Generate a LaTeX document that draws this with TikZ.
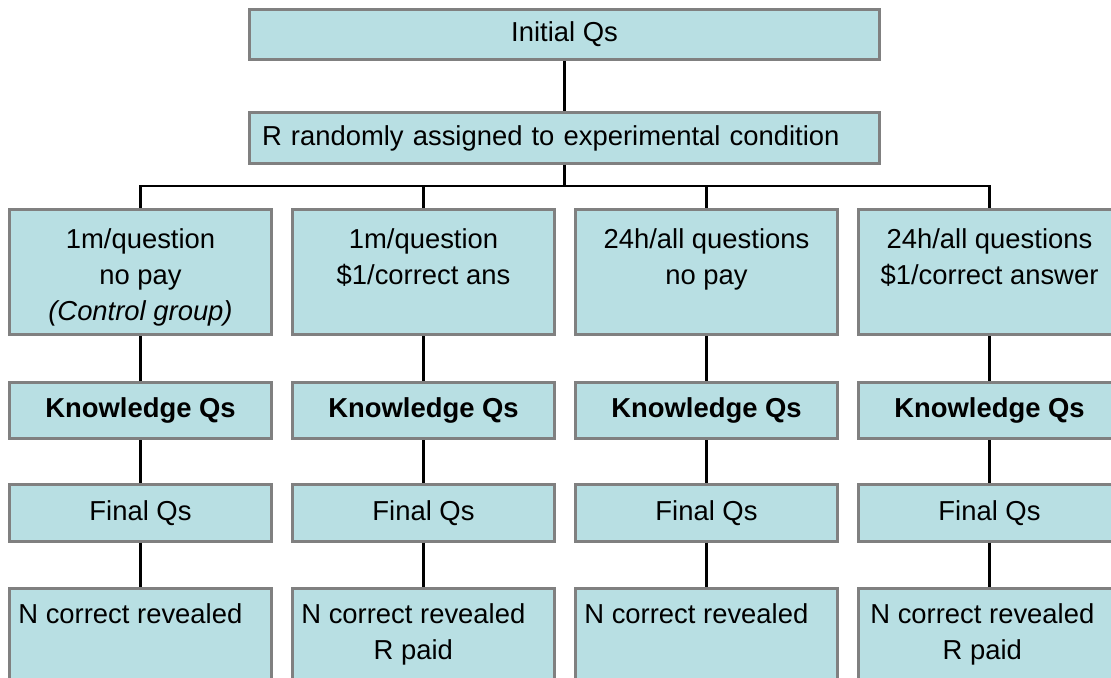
\documentclass[tikz,border=0pt]{standalone}
\usepackage{fontspec}
\setmainfont{Liberation Sans}
\usetikzlibrary{positioning}

\definecolor{boxfill}{RGB}{184,223,227}
\definecolor{boxline}{RGB}{128,128,128}

\newcommand*{\xmax}{1111}
\newcommand*{\ymax}{678}
\newcommand*{\bary}{186}

\begin{document}
\begin{tikzpicture}
[
	x=0.02cm, y=-0.02cm,
	every node/.style={font=\fontsize{15.6pt}{20.5pt}\selectfont},
	box/.style={draw=boxline,fill=boxfill,line width=1.7pt,inner sep=0pt},
	widebox/.style={box,minimum width=12.62cm,minimum height=1.01cm},
	condbox/.style={box,minimum width=5.24cm,minimum height=2.52cm},
	stagebox/.style={box,minimum width=5.24cm,minimum height=1.13cm},
	boxtext/.style={inner sep=0pt,align=center},
	link/.style={line width=1.7pt}
]

	% frame
	\useasboundingbox (0,0) rectangle (\xmax,\ymax);
	\clip (0,0) rectangle (\xmax,\ymax);

	% top
	\node[widebox] (init) at (564.5,34.5) {Initial Qs};
	\node[widebox,text width=12.1cm,inner xsep=0.26cm,align=left] (rand) at (564.5,138) {R randomly assigned to experimental condition};

	% columns
	\foreach \i/\x in {1/140.5,2/423.5,3/706.5,4/989.5} {
		\node[condbox] (c\i) at (\x,272) {};
		\node[stagebox] (k\i) at (\x,410.5) {\textbf{Knowledge Qs}};
		\node[stagebox] (f\i) at (\x,513) {Final Qs};
		\node[condbox] (n\i) at (\x,651) {};
	}

	% conditions
	\node[boxtext,below=0.42cm of c1.north] (t1) {1m/question\\no pay\\\textit{(Control group)}};
	\node[boxtext,below=0.42cm of c2.north] (t2) {1m/question\\\$1/correct ans};
	\node[boxtext,below=0.42cm of c3.north] (t3) {24h/all questions\\no pay};
	\node[boxtext,below=0.42cm of c4.north] (t4) {24h/all questions\\\$1/correct answer};

	% results
	\node[boxtext,below right=0.34cm and 0.2cm of n1.north west] (r1) {N correct revealed};
	\node[boxtext,below right=0.34cm and 0.2cm of n2.north west] (r2) {N correct revealed\\R paid};
	\node[boxtext,below right=0.34cm and 0.2cm of n3.north west] (r3) {N correct revealed};
	\node[boxtext,below right=0.34cm and 0.26cm of n4.north west] (r4) {N correct revealed\\R paid};

	% links
	\coordinate (bar) at (564.5,\bary);
	\draw[link] (init) -- (rand);
	\draw[link] (rand) -- (bar);
	\draw[link] (c1.north) |- (bar) -| (c4.north);
	\draw[link] (bar) -| (c2.north);
	\draw[link] (bar) -| (c3.north);
	\foreach \i in {1,...,4}
		\draw[link] (c\i) -- (k\i) -- (f\i) -- (n\i);

\end{tikzpicture}
\end{document}
